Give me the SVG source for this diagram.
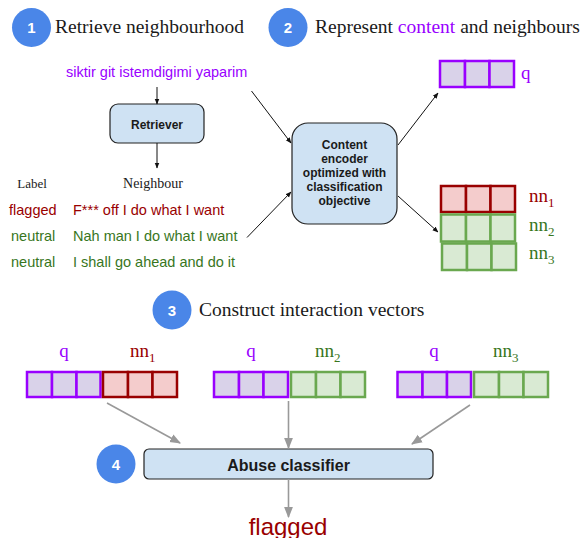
<svg xmlns="http://www.w3.org/2000/svg" width="582" height="538" viewBox="0 0 582 538">
<defs>
<style>
.title{font-family:"Liberation Serif","DejaVu Serif",serif;font-size:19.5px;fill:#1a1a1a}
.num{font-family:"Liberation Sans",Arial,sans-serif;font-size:15px;font-weight:bold;fill:#ffffff;text-anchor:middle}
.circ{fill:#4a86e8}
.sans{font-family:"Liberation Sans",Arial,sans-serif;font-size:14.5px}
.bold{font-family:"Liberation Sans",Arial,sans-serif;font-weight:bold;fill:#1a1a1a;text-anchor:middle}
.ser{font-family:"Liberation Serif","DejaVu Serif",serif;fill:#1a1a1a}
.box{fill:#cfe2f3;stroke:#222222;stroke-width:1.2}
.qc{fill:#d9d2e9;stroke:#9900ff;stroke-width:2.5}
.rc{fill:#f4cccc;stroke:#990000;stroke-width:2.5}
.gc{fill:#d9ead3;stroke:#6aa84f;stroke-width:2.5}
.purple{fill:#9900ff}
.red{fill:#990000}
.green{fill:#38761d}
.vlab{font-family:"Liberation Serif","DejaVu Serif",serif;font-size:19px}
.blk{stroke:#111111;stroke-width:1;fill:none}
.gry{stroke:#999999;stroke-width:1.6;fill:none}
</style>
<marker id="ab" viewBox="0 0 10 10" refX="9" refY="5" markerWidth="6" markerHeight="6" orient="auto" markerUnits="userSpaceOnUse"><path d="M0,1 L10,5 L0,9 z" fill="#111111"/></marker>
<marker id="ag" viewBox="0 0 10 10" refX="9" refY="5" markerWidth="11" markerHeight="11" orient="auto" markerUnits="userSpaceOnUse"><path d="M0,1 L10,5 L0,9 z" fill="#999999"/></marker>
</defs>
<rect width="582" height="538" fill="#ffffff"/>

<g id="step1">
<circle class="circ" cx="31.5" cy="27.5" r="19.5"/>
<text class="num" x="31.5" y="33">1</text>
<text class="title" x="55" y="33">Retrieve neighbourhood</text>
</g>
<g id="step2">
<circle class="circ" cx="288" cy="27.5" r="19.5"/>
<text class="num" x="288" y="33">2</text>
<text class="title" x="315" y="33">Represent <tspan class="purple">content</tspan> and neighbours</text>
</g>
<g id="step3">
<circle class="circ" cx="172" cy="310" r="19.5"/>
<text class="num" x="172" y="315.5">3</text>
<text class="title" x="199" y="316">Construct interaction vectors</text>
</g>
<g id="step4">
<circle class="circ" cx="116" cy="464" r="19.5"/>
<text class="num" x="116" y="469.5">4</text>
</g>

<g id="query-text">
<text class="sans purple" x="66" y="77">siktir git istemdigimi yaparim</text>
</g>

<g id="retriever">
<rect class="box" x="110" y="104" width="94" height="39" rx="8"/>
<text class="bold" x="157" y="129" font-size="12">Retriever</text>
</g>

<g id="neighbours">
<text class="ser" x="32" y="188" font-size="13" text-anchor="middle">Label</text>
<text class="ser" x="153" y="188" font-size="14" text-anchor="middle">Neighbour</text>
<text class="sans red" x="9" y="215">flagged</text>
<text class="sans red" x="73" y="215">F*** off I do what I want</text>
<text class="sans green" x="11" y="241">neutral</text>
<text class="sans green" x="73" y="241">Nah man I do what I want</text>
<text class="sans green" x="11" y="267">neutral</text>
<text class="sans green" x="73" y="267">I shall go ahead and do it</text>
</g>

<g id="encoder">
<rect class="box" x="292" y="123" width="105" height="101" rx="16"/>
<text class="bold" font-size="12" x="344.5" y="149">Content</text>
<text class="bold" font-size="12" x="344.5" y="163">encoder</text>
<text class="bold" font-size="12" x="344.5" y="177">optimized with</text>
<text class="bold" font-size="12" x="344.5" y="191">classification</text>
<text class="bold" font-size="12" x="344.5" y="205">objective</text>
</g>

<g id="vec-q">
<rect class="qc" x="440" y="61" width="25" height="26"/>
<rect class="qc" x="465" y="61" width="24.5" height="26"/>
<rect class="qc" x="489.5" y="61" width="24.5" height="26"/>
<text class="vlab purple" x="521" y="79">q</text>
</g>
<g id="vec-nn1">
<rect class="rc" x="441" y="186" width="25" height="26"/>
<rect class="rc" x="466" y="186" width="24.5" height="26"/>
<rect class="rc" x="490.5" y="186" width="24.5" height="26"/>
<text class="vlab red" x="529" y="202">nn<tspan font-size="13" dy="5">1</tspan></text>
</g>
<g id="vec-nn2">
<rect class="gc" x="441" y="214.5" width="25" height="27"/>
<rect class="gc" x="466" y="214.5" width="24.5" height="27"/>
<rect class="gc" x="490.5" y="214.5" width="24.5" height="27"/>
<text class="vlab green" x="529" y="231">nn<tspan font-size="13" dy="5">2</tspan></text>
</g>
<g id="vec-nn3">
<rect class="gc" x="442" y="243.5" width="25" height="26.5"/>
<rect class="gc" x="467" y="243.5" width="24.5" height="26.5"/>
<rect class="gc" x="491.5" y="243.5" width="24.5" height="26.5"/>
<text class="vlab green" x="529" y="259">nn<tspan font-size="13" dy="5">3</tspan></text>
</g>

<g id="pair1">
<rect class="qc" x="27" y="372" width="25" height="25"/>
<rect class="qc" x="52" y="372" width="24.5" height="25"/>
<rect class="qc" x="76.5" y="372" width="24" height="25"/>
<rect class="rc" x="103" y="372" width="25" height="25"/>
<rect class="rc" x="128" y="372" width="24.5" height="25"/>
<rect class="rc" x="152.5" y="372" width="24.5" height="25"/>
<text class="vlab purple" x="64" y="357" text-anchor="middle">q</text>
<text class="vlab red" x="130" y="357">nn<tspan font-size="13" dy="5">1</tspan></text>
</g>
<g id="pair2">
<rect class="qc" x="214" y="372" width="25" height="25"/>
<rect class="qc" x="239" y="372" width="24.5" height="25"/>
<rect class="qc" x="263.5" y="372" width="24.5" height="25"/>
<rect class="gc" x="291" y="372" width="25" height="25"/>
<rect class="gc" x="316" y="372" width="24.5" height="25"/>
<rect class="gc" x="340.5" y="372" width="24.5" height="25"/>
<text class="vlab purple" x="251" y="357" text-anchor="middle">q</text>
<text class="vlab green" x="315" y="357">nn<tspan font-size="13" dy="5">2</tspan></text>
</g>
<g id="pair3">
<rect class="qc" x="397.5" y="372" width="25" height="25"/>
<rect class="qc" x="422.5" y="372" width="24.5" height="25"/>
<rect class="qc" x="447" y="372" width="24" height="25"/>
<rect class="gc" x="474" y="372" width="25" height="25"/>
<rect class="gc" x="499" y="372" width="24.5" height="25"/>
<rect class="gc" x="523.5" y="372" width="24.5" height="25"/>
<text class="vlab purple" x="434" y="357" text-anchor="middle">q</text>
<text class="vlab green" x="493" y="357">nn<tspan font-size="13" dy="5">3</tspan></text>
</g>

<g id="classifier">
<rect class="box" x="144" y="449" width="289" height="30" rx="5"/>
<text class="bold" x="288.5" y="470.5" font-size="16">Abuse classifier</text>
</g>

<g id="output">
<text x="288" y="535" font-family="'Liberation Sans',Arial,sans-serif" font-size="24" text-anchor="middle" class="red">flagged</text>
</g>

<g id="connectors">
<line class="blk" x1="157" y1="87" x2="157" y2="104" marker-end="url(#ab)"/>
<line class="blk" x1="157" y1="143" x2="157" y2="168" marker-end="url(#ab)"/>
<line class="blk" x1="251.5" y1="91" x2="291" y2="143" marker-end="url(#ab)"/>
<line class="blk" x1="247" y1="237.5" x2="291" y2="192" marker-end="url(#ab)"/>
<line class="blk" x1="398" y1="145" x2="438" y2="93" marker-end="url(#ab)"/>
<line class="blk" x1="398" y1="196" x2="438" y2="232" marker-end="url(#ab)"/>
<line class="gry" x1="107" y1="403" x2="180" y2="443" marker-end="url(#ag)"/>
<line class="gry" x1="288.5" y1="401" x2="288.5" y2="448" marker-end="url(#ag)"/>
<line class="gry" x1="470" y1="405" x2="412" y2="444" marker-end="url(#ag)"/>
<line class="gry" x1="288.5" y1="479" x2="288.5" y2="517" marker-end="url(#ag)"/>
</g>
</svg>
